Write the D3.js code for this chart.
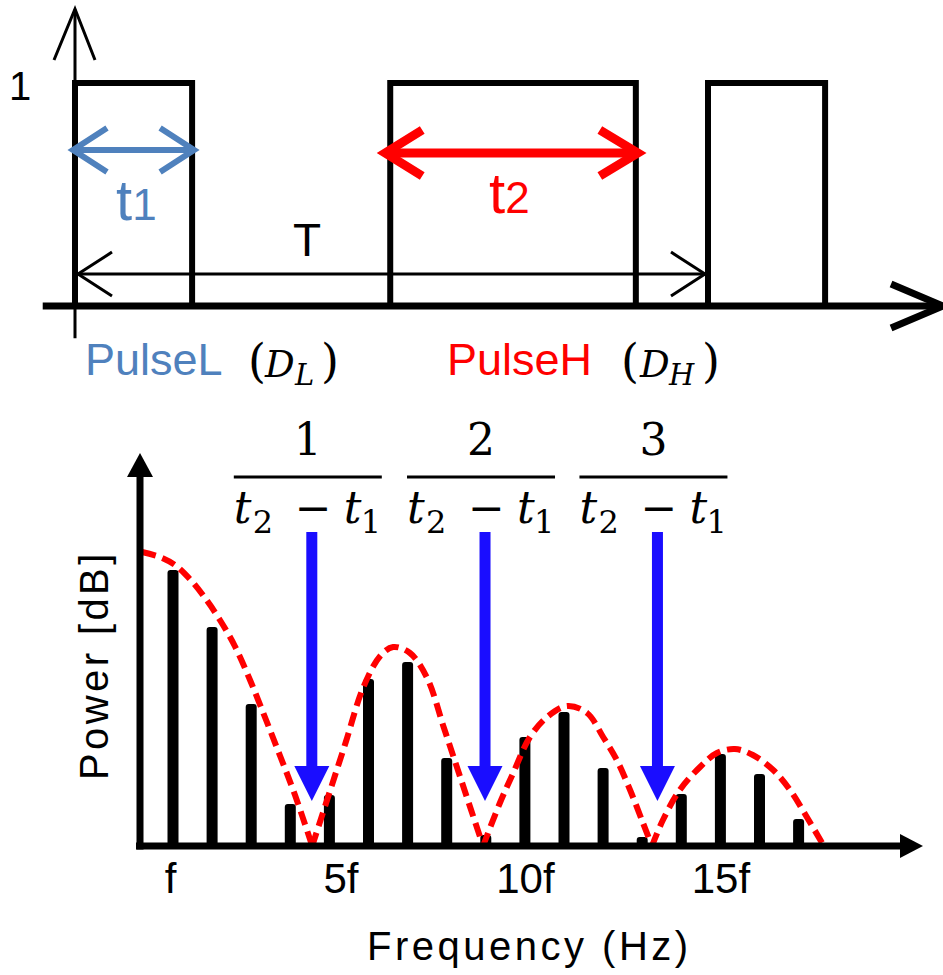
<!DOCTYPE html>
<html>
<head>
<meta charset="utf-8">
<script src="https://cdn.jsdelivr.net/npm/d3@7"></script>
<style>
  html, body { margin: 0; padding: 0; background: #fff; }
  svg { display: block; }
</style>
</head>
<body>
<div id="chart"></div>
<script>
// ---- top panel: pulse train (time units, period T = 100) ----
const pulseStarts = [0, 49.8, 100];
const pulseEnds = [18.5, 88.6, 118.5];

// ---- bottom panel: spectrum ----
const harmonics = [1, 2, 3, 4, 5, 6, 7, 8, 9, 10, 11, 12, 13, 14, 15, 16, 17];
const barValues = [276, 219, 142, 42, 51, 167, 184, 88, 11, 109, 134, 78, 9, 52, 92, 72, 27];

// envelope lobes [harmonic, value]
const lobe1 = [[0.21, 294], [0.67, 289], [1.05, 281], [1.43, 267], [1.82, 248], [2.20, 226],
  [2.58, 200], [2.97, 166], [3.36, 128], [3.74, 90], [4.12, 51], [4.56, 0]];
const lobe2 = [[4.56, 0], [4.99, 52], [5.42, 104], [5.86, 158], [6.30, 190], [6.63, 199],
  [7.06, 193], [7.50, 168], [7.93, 118], [8.37, 66], [8.93, 0]];
const lobe3 = [[8.93, 0], [9.36, 43], [9.70, 73], [10.13, 109], [10.57, 129], [11.08, 140],
  [11.59, 133], [12.00, 109], [12.35, 86], [12.69, 56], [13.02, 23], [13.25, 0]];
const lobe4 = [[13.25, 0], [13.53, 26], [13.96, 56], [14.48, 79], [14.91, 93], [15.37, 97],
  [15.83, 91], [16.35, 76], [16.78, 56], [17.21, 29], [17.60, 3]];

const nullFreqs = [4.55, 8.98, 13.39];
const nullNumerators = ["1", "2", "3"];

const tickValues = [1, 5, 10, 15];
const tickLabels = ["f", "5f", "10f", "15f"];

const width = 943, height = 975;
const sans = "'Liberation Sans', Arial, sans-serif";
const mathFont = "'DejaVu Serif', 'Liberation Serif', serif";
const steel = "#4F81BD", red = "#FF0000", blue = "#1A0DFF";

const svg = d3.select("#chart").append("svg")
  .attr("width", width)
  .attr("height", height)
  .style("background", "#fff");

// open "V" arrow head; dir = +1 means arms go to the right of the tip
function chevron(g, x, y, dir, len, spread, color, sw) {
  g.append("path")
    .attr("d", d3.line()([[x + dir * len, y - spread], [x, y], [x + dir * len, y + spread]]))
    .attr("fill", "none")
    .attr("stroke", color)
    .attr("stroke-width", sw)
    .attr("stroke-linejoin", "miter");
}

// =================== TOP PANEL ===================
const tx = d3.scaleLinear().domain([0, 100]).range([75, 708]);
const ty = d3.scaleLinear().domain([0, 1]).range([306, 83]);
const topG = svg.append("g");

// pulses
pulseStarts.forEach((s, i) => {
  const e = pulseEnds[i];
  topG.append("path")
    .attr("d", d3.line().x(d => tx(d[0])).y(d => ty(d[1]))([[s, 0], [s, 1], [e, 1], [e, 0]]))
    .attr("fill", "none")
    .attr("stroke", "#000")
    .attr("stroke-width", 6);
});

// vertical axis
topG.append("line")
  .attr("x1", tx(0)).attr("x2", tx(0))
  .attr("y1", ty(-0.145)).attr("y2", ty(1.33))
  .attr("stroke", "#000").attr("stroke-width", 3);
topG.append("path")
  .attr("d", d3.line()([[tx(0) - 21, 60], [tx(0), 9], [tx(0) + 20, 60]]))
  .attr("fill", "none").attr("stroke", "#000").attr("stroke-width", 3);

// horizontal (time) axis
topG.append("line")
  .attr("x1", tx(-5.1)).attr("x2", tx(136.5))
  .attr("y1", ty(0)).attr("y2", ty(0))
  .attr("stroke", "#000").attr("stroke-width", 7);
chevron(topG, tx(136.5) + 4, ty(0), -1, 52, 22, "#000", 7);

topG.append("text")
  .attr("x", 20).attr("y", 100)
  .attr("text-anchor", "middle")
  .style("font-family", sans).style("font-size", "40px")
  .text("1");

// t1 arrow (blue)
const yT1 = ty(0.70);
topG.append("line")
  .attr("x1", tx(pulseStarts[0]) - 1).attr("x2", tx(pulseEnds[0]) + 1)
  .attr("y1", yT1).attr("y2", yT1)
  .attr("stroke", steel).attr("stroke-width", 6);
chevron(topG, tx(pulseStarts[0]) - 2, yT1, 1, 34, 22, steel, 6);
chevron(topG, tx(pulseEnds[0]) + 2, yT1, -1, 34, 22, steel, 6);

const t1Label = topG.append("text")
  .attr("x", 116).attr("y", 220)
  .attr("fill", steel)
  .style("font-family", sans);
t1Label.append("tspan").style("font-size", "58px").text("t");
t1Label.append("tspan").style("font-size", "44px").text("1");

// t2 arrow (red)
const yT2 = ty(0.686);
topG.append("line")
  .attr("x1", tx(pulseStarts[1]) - 3).attr("x2", tx(pulseEnds[1]) - 2)
  .attr("y1", yT2).attr("y2", yT2)
  .attr("stroke", red).attr("stroke-width", 9);
chevron(topG, tx(pulseStarts[1]) - 5, yT2, 1, 37, 23, red, 9);
chevron(topG, tx(pulseEnds[1]) + 2, yT2, -1, 38, 23, red, 9);

const t2Label = topG.append("text")
  .attr("x", 489).attr("y", 213)
  .attr("fill", red)
  .style("font-family", sans);
t2Label.append("tspan").style("font-size", "58px").text("t");
t2Label.append("tspan").style("font-size", "44px").text("2");

// T arrow (period)
const yT = ty(0.143);
topG.append("line")
  .attr("x1", tx(0) + 3).attr("x2", tx(100) - 3)
  .attr("y1", yT).attr("y2", yT)
  .attr("stroke", "#000").attr("stroke-width", 3);
chevron(topG, tx(0) + 3, yT, 1, 34, 22, "#000", 3);
chevron(topG, tx(100) - 3, yT, -1, 34, 22, "#000", 3);

topG.append("text")
  .attr("x", 307).attr("y", 256)
  .attr("text-anchor", "middle")
  .style("font-family", sans).style("font-size", "46px")
  .text("T");

// pulse names with (D_L) / (D_H)
function pulseName(x, name, color, sub, parenX) {
  topG.append("text")
    .attr("x", x).attr("y", 375)
    .attr("fill", color)
    .style("font-family", sans).style("font-size", "45px")
    .text(name);
  const m = topG.append("text")
    .attr("y", 377)
    .style("font-family", mathFont).style("font-size", "37px");
  m.append("tspan").attr("x", parenX[0]).style("font-size", "46px").text("(");
  m.append("tspan").attr("x", parenX[1]).style("font-style", "italic").text("D");
  m.append("tspan").attr("x", parenX[2]).attr("dy", 8)
    .style("font-style", "italic").style("font-size", "29px").text(sub);
  m.append("tspan").attr("x", parenX[3]).attr("dy", -8).style("font-size", "46px").text(")");
}
pulseName(85, "PulseL", steel, "L", [248, 265, 295, 321]);
pulseName(447, "PulseH", red, "H", [621, 640, 669, 702]);

// =================== BOTTOM PANEL ===================
const fx = d3.scaleLinear().domain([0, 20]).range([133.9, 915.9]);
const fy = d3.scaleLinear().domain([0, 400]).range([846, 446]);
const bot = svg.append("g");
const barW = 11;

// spectral lines
bot.selectAll("rect.bar")
  .data(harmonics)
  .join("rect")
  .attr("class", "bar")
  .attr("x", d => fx(d) - barW / 2)
  .attr("y", (d, i) => fy(barValues[i]))
  .attr("width", barW)
  .attr("height", (d, i) => fy(0) - fy(barValues[i]) + 3)
  .attr("rx", 3)
  .attr("fill", "#000");

// envelope (red dashed)
const envLine = d3.line()
  .x(d => fx(d[0]))
  .y(d => fy(d[1]))
  .curve(d3.curveCatmullRom.alpha(0.5));
[lobe1, lobe2, lobe3, lobe4].forEach(lobe => {
  bot.append("path")
    .attr("d", envLine(lobe))
    .attr("fill", "none")
    .attr("stroke", red)
    .attr("stroke-width", 6)
    .attr("stroke-dasharray", "14 7");
});

// axes
const x0 = 140;
bot.append("line")
  .attr("x1", x0 - 4).attr("x2", 902)
  .attr("y1", fy(0)).attr("y2", fy(0))
  .attr("stroke", "#000").attr("stroke-width", 7);
bot.append("path")
  .attr("d", d3.line()([[900, fy(0) - 12], [923, fy(0)], [900, fy(0) + 12]]) + "Z")
  .attr("fill", "#000");
bot.append("line")
  .attr("x1", x0).attr("x2", x0)
  .attr("y1", fy(0) + 3.5).attr("y2", 475)
  .attr("stroke", "#000").attr("stroke-width", 7);
bot.append("path")
  .attr("d", d3.line()([[x0 - 13, 477], [x0, 453], [x0 + 13, 477]]) + "Z")
  .attr("fill", "#000");

// tick labels
const xAxis = bot.append("g")
  .attr("transform", `translate(0,${fy(0)})`)
  .call(d3.axisBottom(fx)
    .tickValues(tickValues)
    .tickFormat((d, i) => tickLabels[i])
    .tickSize(0)
    .tickPadding(17));
xAxis.select(".domain").remove();
xAxis.selectAll("text")
  .attr("dx", d => d === 5 ? 11 : (d === 1 ? -3 : 0))
  .attr("fill", "#000")
  .style("font-family", sans)
  .style("font-size", "42px");

// axis titles
bot.append("text")
  .attr("x", 367).attr("y", 960)
  .style("font-family", sans).style("font-size", "40px")
  .style("letter-spacing", "3.5px")
  .text("Frequency (Hz)");
bot.append("text")
  .attr("transform", "translate(108,780) rotate(-90)")
  .style("font-family", sans).style("font-size", "40px")
  .style("letter-spacing", "3.4px")
  .text("Power [dB]");

// blue arrows at the spectral nulls
nullFreqs.forEach(n => {
  const cx = fx(n);
  bot.append("rect")
    .attr("x", cx - 5.5).attr("y", fy(314))
    .attr("width", 11).attr("height", fy(80) - fy(314))
    .attr("fill", blue);
  bot.append("path")
    .attr("d", d3.line()([[cx - 17.5, fy(80)], [cx, fy(45)], [cx + 17.5, fy(80)]]) + "Z")
    .attr("fill", blue);
});

// fractions k / (t2 - t1)
nullFreqs.forEach((n, i) => {
  const c = fx(n) - 4;
  bot.append("text")
    .attr("x", c).attr("y", 455)
    .attr("text-anchor", "middle")
    .style("font-family", mathFont).style("font-size", "44px")
    .text(nullNumerators[i]);
  bot.append("line")
    .attr("x1", c - 74).attr("x2", c + 74)
    .attr("y1", 477).attr("y2", 477)
    .attr("stroke", "#000").attr("stroke-width", 3);
  const den = bot.append("text")
    .attr("y", 523)
    .style("font-family", mathFont).style("font-size", "44px");
  den.append("tspan").attr("x", c - 74).style("font-style", "italic").text("t");
  den.append("tspan").attr("x", c - 55).attr("dy", 10).style("font-size", "32px").text("2");
  den.append("tspan").attr("x", c - 13).attr("dy", -10).text("\u2212");
  den.append("tspan").attr("x", c + 36).style("font-style", "italic").text("t");
  den.append("tspan").attr("x", c + 53).attr("dy", 10).style("font-size", "32px").text("1");
});
</script>
</body>
</html>
